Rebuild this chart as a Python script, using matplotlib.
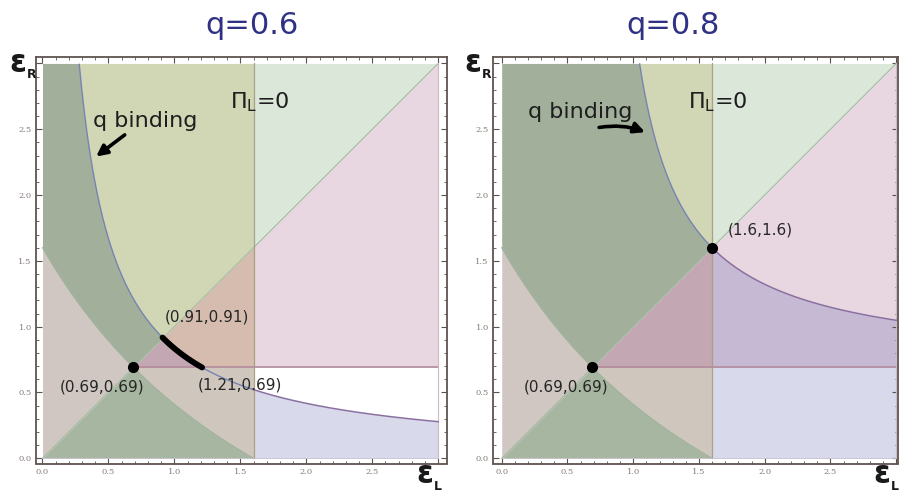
import numpy as np
import matplotlib
matplotlib.use("Agg")
import matplotlib.pyplot as plt

# ---------------- data ----------------
q_values = [0.6, 0.8]
titles = ["q=0.6", "q=0.8"]
pi_L_zero = 1.6            # vertical line Pi_L = 0
eps_floor = 0.69           # horizontal boundary / lower corner
desc_end = 1.6             # descending curve meets axes at (0,1.6) and (1.6,0)
# q-binding curves: (x - s)(y - s) = c
bind_shift = [0.0, 0.69]
bind_const = [0.835, 0.828]
# highlighted points and their labels
points = [[(0.69, 0.69)], [(0.69, 0.69), (1.6, 1.6)]]
point_labels = [
    [("(0.91,0.91)", 1.246, 1.07), ("(0.69,0.69)", 0.45, 0.545), ("(1.21,0.69)", 1.50, 0.56)],
    [("(1.6,1.6)", 1.97, 1.735), ("(0.69,0.69)", 0.49, 0.545)],
]
thick_segment = [(0.91, 1.21), None]
tick_values = [0.0, 0.5, 1.0, 1.5, 2.0, 2.5, 3.0]
tick_labels = ["0.0", "0.5", "1.0", "1.5", "2.0", "2.5", ""]
eps_max = 3.0

# ---------------- colours ----------------
C_DKGREEN = "#a2b09b"
C_BOTGREEN = "#a7b6a0"
C_OLIVE = "#d1d6b4"
C_LTGREEN = "#dbe8d9"
C_LEFTGRAY = "#d0c7c3"
C_GRAYR = "#cfc7be"
C_MAUVE = "#c3a7b3"
C_BROWNPINK = "#d5bcaf"
C_PINK = "#e8d7e0"
C_PURPLE = "#c5b9d4"
C_LAVENDER = "#d9d9ec"

fig = plt.figure(figsize=(9.01, 4.98), dpi=100)

axes_pos = [[36 / 901, 34.5 / 498, 410.7 / 901, 406.5 / 498],
            [493 / 901, 34.5 / 498, 404.5 / 901, 406.5 / 498]]
xlims = [(-0.049, 3.064), (-0.066, 3.0096)]
ylims = (-0.0395, 3.049)


def desc_curve(x):
    a = eps_floor ** 2 / (desc_end - 2 * eps_floor)
    return a * (desc_end + a) / (x + a) - a


def bind_curve(x, s, c):
    with np.errstate(divide="ignore", invalid="ignore"):
        y = np.where(x > s + 1e-9, s + c / (x - s), np.inf)
    return y


for k in range(2):
    ax = fig.add_axes(axes_pos[k])
    s, c = bind_shift[k], bind_const[k]
    E = eps_floor
    T = eps_max

    xa = np.linspace(0, pi_L_zero, 2001)
    xb = np.linspace(pi_L_zero, T, 2001)
    Da = desc_curve(xa)
    ha = bind_curve(xa, s, c)
    hb = bind_curve(xb, s, c)

    def fb(x, lo, hi, color):
        lo = np.clip(lo, 0, T)
        hi = np.clip(hi, 0, T)
        ax.fill_between(x, lo, hi, where=hi > lo, interpolate=True,
                        color=color, lw=0)

    # x < Pi_L=0 side
    fb(xa, np.maximum(Da, xa), np.minimum(T, ha), C_DKGREEN)
    fb(xa, np.maximum(ha, xa), np.full_like(xa, T), C_OLIVE)
    fb(xa, xa, Da, C_LEFTGRAY)
    fb(xa, np.zeros_like(xa), np.minimum(xa, Da), C_BOTGREEN)
    m = xa >= E
    fb(xa[m], np.maximum(Da[m], 0), np.full(m.sum(), E), C_GRAYR)
    fb(xa[m], np.full(m.sum(), E), np.minimum(xa[m], ha[m]), C_MAUVE)
    fb(xa[m], np.maximum(E, ha[m]), xa[m], C_BROWNPINK)
    # x > Pi_L=0 side
    fb(xb, xb, np.full_like(xb, T), C_LTGREEN)
    fb(xb, np.maximum(E, hb), xb, C_PINK)
    fb(xb, np.full_like(xb, E), np.minimum(hb, xb), C_PURPLE)
    fb(xb, np.zeros_like(xb), np.minimum(hb, E), C_LAVENDER)

    # boundary lines
    xf = np.linspace(0, T, 3001)
    hf = bind_curve(xf, s, c)
    ax.plot([0, T], [0, T], color="#a4b9a2", lw=0.8)
    ax.plot(xa, Da, color="#9db09b", lw=0.8)
    ax.plot([pi_L_zero, pi_L_zero], [0, T], color="#aaa083", lw=0.9)
    ax.plot([E, T], [E, E], color="#b38c9c", lw=1.2)
    ax.plot([T, T], [0, T], color="#cdb9c4", lw=0.8)
    ax.plot([0, T], [0, 0], color="#c9c3cf", lw=0.6)
    mb = (hf <= T) & (xf <= pi_L_zero)
    ax.plot(xf[mb], hf[mb], color="#7584b2", lw=1.0)
    mb2 = (hf <= T) & (xf >= pi_L_zero)
    ax.plot(xf[mb2], hf[mb2], color="#8a70a0", lw=1.1)

    # thick highlighted segment
    if thick_segment[k] is not None:
        x0, x1 = thick_segment[k]
        xs = np.linspace(x0, x1, 100)
        ax.plot(xs, bind_curve(xs, s, c), color="k", lw=4.2,
                solid_capstyle="round")

    for (px, py) in points[k]:
        ax.plot(px, py, "o", color="k", ms=7)

    for (txt, tx, ty) in point_labels[k]:
        ax.text(tx, ty, txt, fontsize=11, color="#262626", ha="center",
                va="center")

    # annotations
    if k == 0:
        ax.text(0.386, 2.52, "q binding", fontsize=16, color="#1e1e1e",
                ha="left", va="baseline")
        ax.annotate("", xy=(0.39, 2.28), xytext=(0.64, 2.47),
                    arrowprops=dict(arrowstyle="-|>", lw=2.6, color="k",
                                    mutation_scale=16))
    else:
        ax.text(0.2, 2.585, "q binding", fontsize=16, color="#1e1e1e",
                ha="left", va="baseline")
        ax.annotate("", xy=(1.11, 2.47), xytext=(0.72, 2.51),
                    arrowprops=dict(arrowstyle="-|>", lw=2.6, color="k",
                                    mutation_scale=16,
                                    connectionstyle="arc3,rad=-0.15"))
    ax.text(1.42, 2.66, r"$\Pi_{\mathsf{L}}$=0", fontsize=16, color="#1e1e1e",
            ha="left", va="baseline")

    ax.set_xlim(*xlims[k])
    ax.set_ylim(*ylims)
    ax.set_xticks(tick_values)
    ax.set_xticklabels(tick_labels)
    ax.set_yticks(tick_values)
    ax.set_yticklabels(tick_labels)
    ax.set_xticks(np.arange(0, 3.01, 0.1), minor=True)
    ax.set_yticks(np.arange(0, 3.01, 0.1), minor=True)
    ax.tick_params(which="both", direction="in", top=True, right=True,
                   color="#5a504c", labelcolor="#857a7a", labelsize=6,
                   pad=3)
    ax.tick_params(which="major", length=4.5, width=0.8)
    ax.tick_params(which="minor", length=2.2, width=0.6)
    for lab in ax.get_xticklabels() + ax.get_yticklabels():
        lab.set_family("DejaVu Serif")
    for sp in ax.spines.values():
        sp.set_color("#5e5450")
        sp.set_linewidth(1.3)
    ax.set_facecolor("white")

# titles
fig.text(252 / 901, 1 - 25 / 498, titles[0], fontsize=22, color="#2e3184",
         ha="center", va="center")
fig.text(673 / 901, 1 - 25 / 498, titles[1], fontsize=22, color="#2e3184",
         ha="center", va="center")

# axis labels (epsilon with subscripts)
def eps_label(cx, cy, sub, sx, sy):
    fig.text(cx / 901, 1 - cy / 498, "ε", fontsize=22, fontweight="bold",
             color="#1a1a1a", ha="center", va="center")
    fig.text(sx / 901, 1 - sy / 498, sub, fontsize=9, fontweight="bold",
             color="#1a1a1a", ha="center", va="center")

eps_label(17.5, 63, "R", 32, 75)
eps_label(425, 474, "L", 438, 486)
eps_label(472.5, 63, "R", 487, 75)
eps_label(882, 474, "L", 895, 486)

fig.savefig("out.png", dpi=100)
